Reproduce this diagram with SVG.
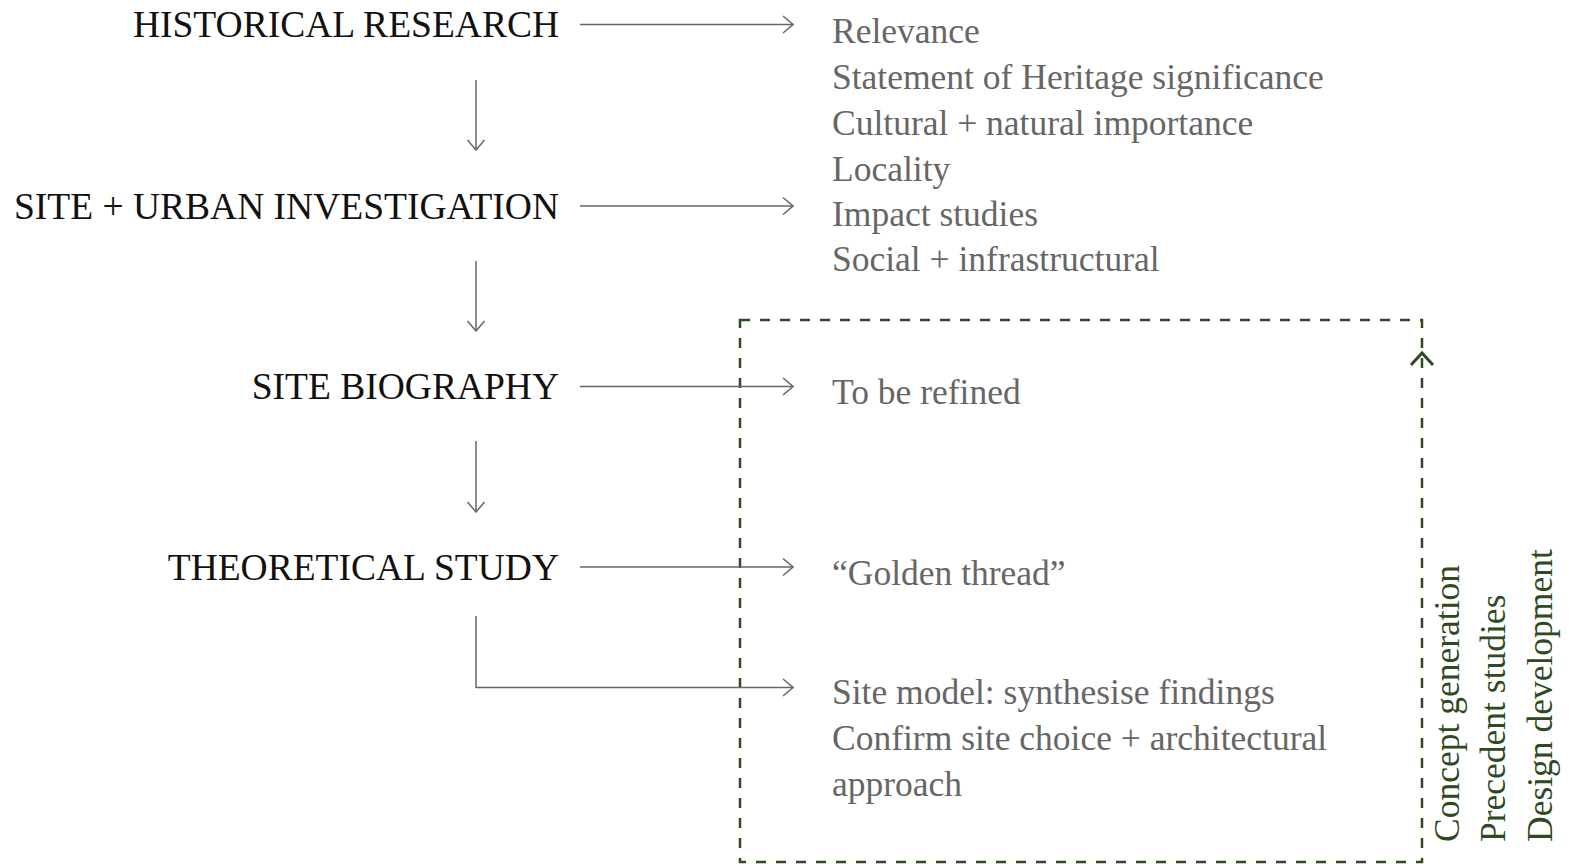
<svg xmlns="http://www.w3.org/2000/svg" width="1572" height="867" viewBox="0 0 1572 867">
  <defs>
    <style>
      .stage { font-family: "Liberation Serif", "DejaVu Serif", serif; font-size: 37.5px; fill: #111; text-anchor: end; }
      .note { font-family: "Liberation Serif", "DejaVu Serif", serif; font-size: 35.5px; fill: #666; }
      .side { font-family: "Liberation Serif", "DejaVu Serif", serif; font-size: 35.5px; fill: #2d4a22; }
      .flow { fill: none; stroke: #666; stroke-width: 1.5; }
      .frame { fill: none; stroke: #2d4a22; stroke-width: 2.5; stroke-dasharray: 10 10; }
      .loop { fill: none; stroke: #2d4a22; stroke-width: 3; }
    </style>
    <marker id="chev" viewBox="0 0 12 20" refX="11" refY="10" markerWidth="12" markerHeight="20" markerUnits="userSpaceOnUse" orient="auto">
      <path d="M1,1.5 L11,10 L1,18.5" fill="none" stroke="#666" stroke-width="1.5"/>
    </marker>
  </defs>

  <!-- dashed feedback frame -->
  <g id="design-loop">
    <rect class="frame" x="740" y="320" width="682" height="542"/>
    <path class="loop" d="M1411,365 L1422,353 L1433,365"/>
  </g>

  <!-- stage labels -->
  <g id="historical-research">
    <text class="stage" x="559" y="37">HISTORICAL RESEARCH</text>
  </g>
  <g id="site-urban-investigation">
    <text class="stage" x="559" y="219">SITE + URBAN INVESTIGATION</text>
  </g>
  <g id="site-biography">
    <text class="stage" x="559" y="399">SITE BIOGRAPHY</text>
  </g>
  <g id="theoretical-study">
    <text class="stage" x="559" y="580">THEORETICAL STUDY</text>
  </g>

  <!-- outcomes -->
  <g id="research-outcomes">
    <text class="note" x="832" y="43">Relevance</text>
    <text class="note" x="832" y="89">Statement of Heritage significance</text>
    <text class="note" x="832" y="135">Cultural + natural importance</text>
    <text class="note" x="832" y="181">Locality</text>
  </g>
  <g id="site-outcomes">
    <text class="note" x="832" y="226">Impact studies</text>
    <text class="note" x="832" y="271">Social + infrastructural</text>
  </g>
  <g id="biography-outcome">
    <text class="note" x="832" y="404">To be refined</text>
  </g>
  <g id="theory-outcome">
    <text class="note" x="832" y="585">“Golden thread”</text>
  </g>
  <g id="synthesis-outcome">
    <text class="note" x="832" y="704">Site model: synthesise findings</text>
    <text class="note" x="832" y="750">Confirm site choice + architectural</text>
    <text class="note" x="832" y="796">approach</text>
  </g>

  <!-- design phases, read bottom to top -->
  <g id="design-phases">
    <text class="side" transform="translate(1459,842) rotate(-90)">Concept generation</text>
    <text class="side" transform="translate(1505,842) rotate(-90)">Precedent studies</text>
    <text class="side" transform="translate(1552,842) rotate(-90)">Design development</text>
  </g>

  <!-- connectors -->
  <g id="connectors">
    <path class="flow" d="M580,24.5 H793" marker-end="url(#chev)"/>
    <path class="flow" d="M580,206 H793" marker-end="url(#chev)"/>
    <path class="flow" d="M580,386.5 H793" marker-end="url(#chev)"/>
    <path class="flow" d="M580,567 H793" marker-end="url(#chev)"/>
    <path class="flow" d="M476,80 V150" marker-end="url(#chev)"/>
    <path class="flow" d="M476,261 V331" marker-end="url(#chev)"/>
    <path class="flow" d="M476,441 V512" marker-end="url(#chev)"/>
    <path class="flow" d="M476,616 V687.5 H793" marker-end="url(#chev)"/>
  </g>
</svg>
